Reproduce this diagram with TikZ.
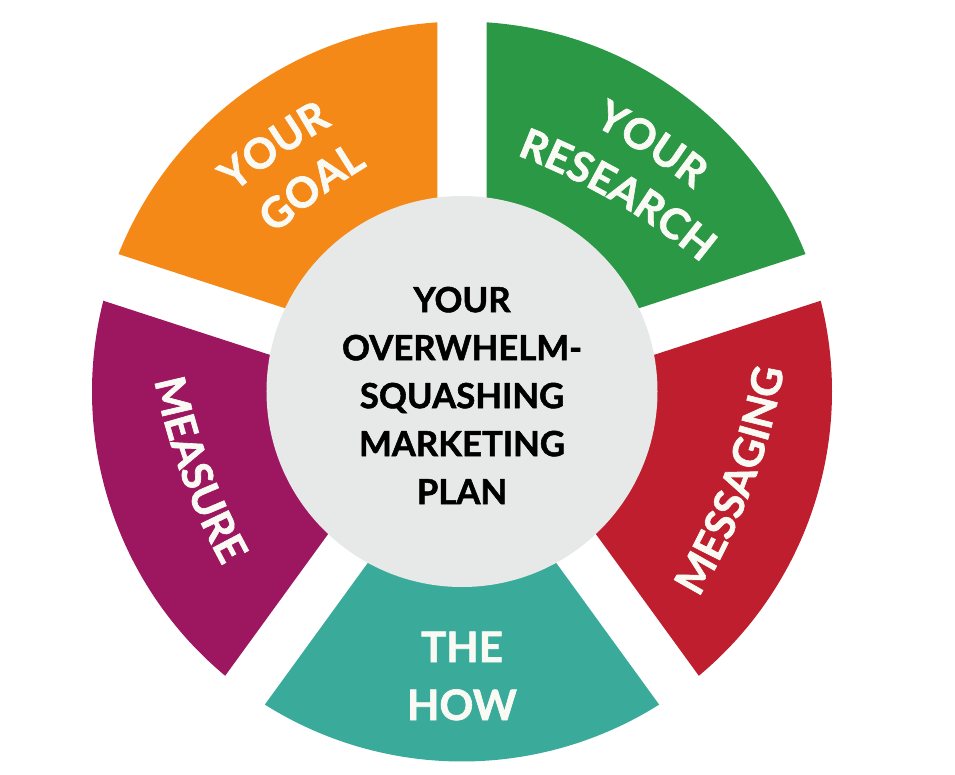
\documentclass[tikz,border=0pt]{standalone}
\usepackage{fontspec}
\setmainfont{Lato}[BoldFeatures={FakeBold=1.5}]
\usetikzlibrary{calc,decorations.text}

\definecolor{resgreen}{RGB}{42,152,68}
\definecolor{goalorange}{RGB}{245,137,23}
\definecolor{measpurple}{RGB}{157,23,96}
\definecolor{howteal}{RGB}{58,171,154}
\definecolor{msgred}{RGB}{190,30,45}
\definecolor{hubgray}{RGB}{231,233,232}
\definecolor{offwhite}{RGB}{250,250,244}

\newcommand{\segfont}{\fontsize{42}{42}\selectfont\bfseries\color{offwhite}}

\begin{document}
\begin{tikzpicture}
  [x=1pt,y=1pt,
   segtext/.style={decorate,decoration={text along path,text align=center,text={|\segfont|#1}}},
   every node/.style={inner sep=0pt}]
  \useasboundingbox (-462,-382.5) rectangle (493,391.5);
  % the five pieces of the ring
  \foreach \a/\c in {18/resgreen,90/goalorange,162/measpurple,234/howteal,306/msgred}
    \fill[\c] ({\a+36}:41.7) -- ({\a+3.8}:370)
      arc[start angle=\a+3.8, end angle=\a+68.2, radius=370] -- cycle;
  \node (hub) [circle,fill=hubgray,minimum size=391pt] at (0,0) {};
  \node (plan) [align=center,font=\fontsize{34.7}{48}\selectfont\bfseries] at (0,-4)
    {YOUR\\OVERWHELM-\\SQUASHING\\MARKETING\\PLAN};
  % labels read clockwise: middle of baseline / tangent / word
  \foreach \mx/\my/\t/\w in {-180.5/235/34.6/YOUR,-142.5/193.5/36.4/GOAL,
    183/236.5/-32.7/YOUR,151.5/190/-30.3/RESEARCH}
    \path[segtext/.expanded=\w] ($(\mx,\my)+({\t-90}:650)+({\t+105}:650)$)
      arc[start angle=\t+105, end angle=\t+75, radius=650];
  % labels read counterclockwise
  \foreach \mx/\my/\t/\w in {290/-96/69.5/MESSAGING,-280.5/-84.5/-69.8/MEASURE}
    \path[segtext/.expanded=\w] ($(\mx,\my)+({\t+90}:650)+({\t-105}:650)$)
      arc[start angle=\t-105, end angle=\t-75, radius=650];
  \node (the) [anchor=base,font=\segfont] at (0,-270.5) {THE};
  \node (how) [anchor=base,font=\segfont] at (0,-328.5) {HOW};
\end{tikzpicture}
\end{document}
